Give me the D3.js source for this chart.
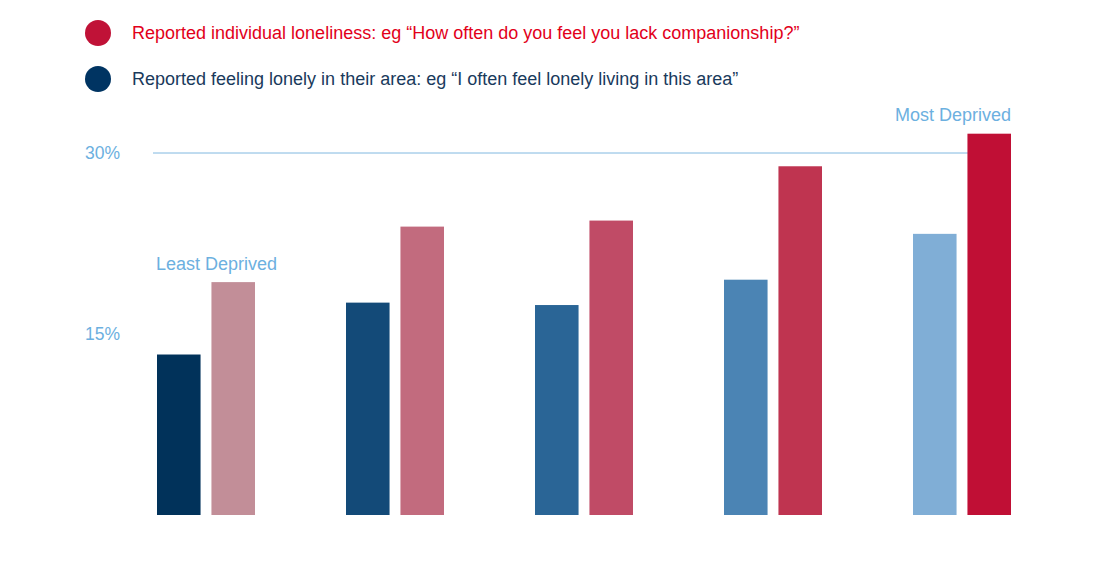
<!DOCTYPE html>
<html><head><meta charset="utf-8">
<script src="https://cdn.jsdelivr.net/npm/d3@7"></script>
<style>body{margin:0;background:#fff}svg{display:block;font-family:"Liberation Sans",Arial,sans-serif}</style>
</head><body>
<svg id="c" width="1114" height="562"></svg>
<script>
const categories = ["Least Deprived", "Q2", "Q3", "Q4", "Most Deprived"];
const areaLonely = [13.3, 17.6, 17.4, 19.5, 23.3];
const individualLonely = [19.3, 23.9, 24.4, 28.9, 31.6];
const blueColors = ["#01325a", "#134a78", "#2a6596", "#4b84b4", "#80aed6"];
const redColors = ["#c28e98", "#c26b7e", "#c04b66", "#bf3450", "#c00f35"];
const yTicks = [15, 30];
const legendItems = [
  {label: "Reported individual loneliness: eg “How often do you feel you lack companionship?”", dot: "#c01237", text: "#e2001a"},
  {label: "Reported feeling lonely in their area: eg “I often feel lonely living in this area”", dot: "#003462", text: "#1a3a5c"}
];

const svg = d3.select("#c");
const y = d3.scaleLinear().domain([0, 30]).range([515, 153]);
const x = d3.scaleBand().domain(categories).range([111.5, 1056.5]);
const sub = d3.scaleBand().domain(["area", "indiv"]).range([-49, 49]).paddingInner(0.2);
const axisColor = "#6cb0e0";

// gridline at 30%
svg.append("line").attr("x1", 153).attr("x2", 1011).attr("y1", y(30)).attr("y2", y(30))
  .attr("stroke", "#80b8e0").attr("stroke-width", 1);

svg.selectAll("text.tick").data(yTicks).join("text").attr("class", "tick")
  .attr("x", 85).attr("y", d => y(d)).attr("dy", "0.35em")
  .attr("fill", axisColor).attr("font-size", 17.5).text(d => d + "%");

const g = svg.selectAll("g.grp").data(categories).join("g")
  .attr("transform", d => `translate(${x(d) + x.bandwidth() / 2},0)`);
g.append("rect").attr("x", sub("area")).attr("width", sub.bandwidth())
  .attr("y", (d, i) => y(areaLonely[i])).attr("height", (d, i) => y(0) - y(areaLonely[i]))
  .attr("fill", (d, i) => blueColors[i]);
g.append("rect").attr("x", sub("indiv")).attr("width", sub.bandwidth())
  .attr("y", (d, i) => y(individualLonely[i])).attr("height", (d, i) => y(0) - y(individualLonely[i]))
  .attr("fill", (d, i) => redColors[i]);

// annotations
svg.append("text").attr("x", x(categories[0]) + x.bandwidth() / 2 - 50).attr("y", 270)
  .attr("fill", axisColor).attr("font-size", 18).text("Least Deprived");
svg.append("text").attr("x", x(categories[4]) + x.bandwidth() / 2 + 49).attr("y", 121)
  .attr("text-anchor", "end").attr("fill", axisColor).attr("font-size", 18).text("Most Deprived");

// legend
const lg = svg.selectAll("g.leg").data(legendItems).join("g")
  .attr("transform", (d, i) => `translate(0,${33 + i * 46})`);
lg.append("circle").attr("cx", 98).attr("cy", 0).attr("r", 13).attr("fill", d => d.dot);
lg.append("text").attr("x", 132).attr("y", 0).attr("dy", "0.35em").attr("font-size", 18)
  .attr("fill", d => d.text).text(d => d.label);
</script>
</body></html>
